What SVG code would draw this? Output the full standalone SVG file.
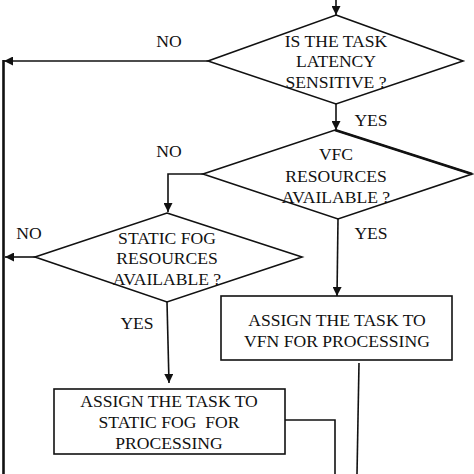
<svg xmlns="http://www.w3.org/2000/svg" width="474" height="474" viewBox="0 0 474 474">
<style>
text{font-family:"Liberation Serif","Times New Roman","DejaVu Serif",serif;font-size:17.6px;fill:#111;text-anchor:middle}
.shape{fill:#fff;stroke:#111;stroke-width:1.6}
.ln{fill:none;stroke:#111;stroke-width:1.6}
</style>
<defs>
<marker id="ah" viewBox="0 0 10 10" refX="10" refY="5" markerWidth="9" markerHeight="9" markerUnits="userSpaceOnUse" orient="auto">
<path d="M0,0 L10,5 L0,10 z" fill="#111"/>
</marker>
</defs>
<rect width="474" height="474" fill="#fff"/>
<g id="connectors">
<line class="ln" x1="336" y1="0" x2="336" y2="15" marker-end="url(#ah)"/>
<line class="ln" x1="208" y1="61" x2="4" y2="61" marker-end="url(#ah)"/>
<line x1="3.5" y1="60" x2="3.5" y2="474" stroke="#111" stroke-width="2.6"/>
<line class="ln" x1="336" y1="104" x2="336" y2="130" marker-end="url(#ah)"/>
<polyline class="ln" points="203,174 168,174 168,212" marker-end="url(#ah)"/>
<line class="ln" x1="35" y1="257" x2="5" y2="257" marker-end="url(#ah)"/>
<line class="ln" x1="338" y1="219" x2="337" y2="296" marker-end="url(#ah)"/>
<line class="ln" x1="167" y1="302" x2="169" y2="383" marker-end="url(#ah)"/>
<polyline class="ln" points="285,420 335,420 335,474"/>
<line class="ln" x1="359" y1="363" x2="357" y2="474"/>
<text x="169" y="47">NO</text>
<text x="371" y="126">YES</text>
<text x="169" y="157">NO</text>
<text x="371" y="239">YES</text>
<text x="29" y="239">NO</text>
<text x="137" y="329">YES</text>
</g>
<g id="d1">
<polygon class="shape" points="336,15 463,61 336,104 208,61"/>
<text x="336" y="47">IS THE TASK</text>
<text x="336" y="67">LATENCY</text>
<text x="336" y="88">SENSITIVE ?</text>
</g>
<g id="d2">
<polygon class="shape" points="335,130 472,174 338,219 203,174"/>
<line x1="335" y1="130" x2="472" y2="174" stroke="#111" stroke-width="2.8"/>
<text x="336" y="160">VFC</text>
<text x="336" y="182">RESOURCES</text>
<text x="336" y="203">AVAILABLE ?</text>
</g>
<g id="d3">
<polygon class="shape" points="167,213 302,257 167,302 35,257"/>
<text x="167" y="244">STATIC FOG</text>
<text x="167" y="264">RESOURCES</text>
<text x="167" y="285">AVAILABLE ?</text>
</g>
<g id="vfn">
<rect class="shape" x="221" y="296" width="231" height="64"/>
<text x="337" y="326">ASSIGN THE TASK TO</text>
<text x="337" y="347">VFN FOR PROCESSING</text>
</g>
<g id="staticfog">
<rect class="shape" x="54" y="389" width="231" height="65"/>
<text x="169" y="407">ASSIGN THE TASK TO</text>
<text x="169" y="428" style="white-space:pre">STATIC FOG  FOR</text>
<text x="169" y="449">PROCESSING</text>
</g>
</svg>
